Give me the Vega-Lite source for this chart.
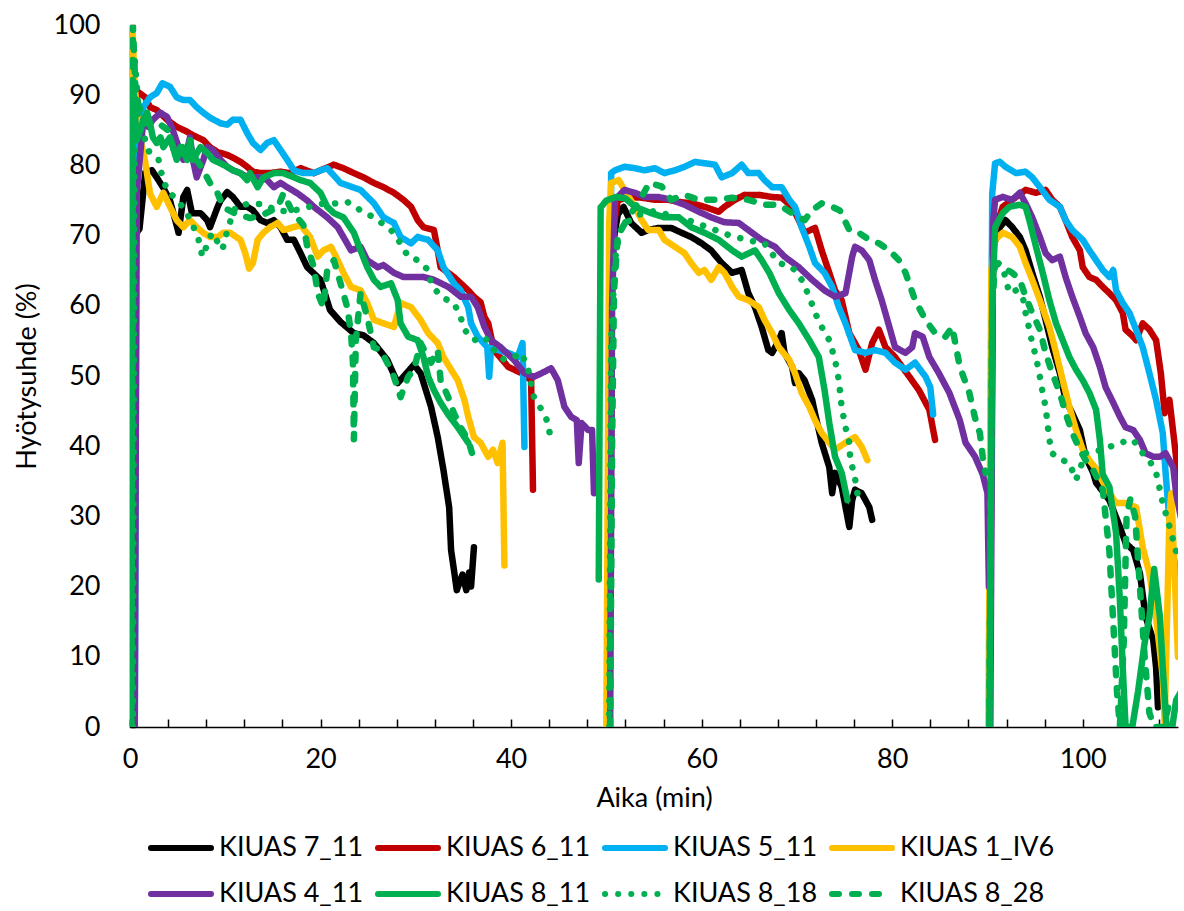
{
"$schema":"https://vega.github.io/schema/vega-lite/v6.json",
"width":1048,"height":702,
"autosize":{"type":"none"},
"padding":{"left":130,"top":25,"right":6,"bottom":184},
"background":"white",
"config":{"font":"Lato","view":{"stroke":null},
 "axis":{"domainColor":"#000","domainWidth":1.5,"tickColor":"#000","tickWidth":1.5,"labelColor":"#000","titleColor":"#000","labelFont":"Lato","titleFont":"Lato","labelFontSize":27,"titleFontSize":27,"titleFontWeight":"normal","grid":false},
 "legend":{"labelFont":"Lato","labelFontSize":27,"labelColor":"#000"}},
"data":{"values":[
{"s":"7_11","g":1,"x":0.2,"y":0},{"s":"7_11","g":1,"x":0.5,"y":70},{"s":"7_11","g":1,"x":1,"y":71},{"s":"7_11","g":1,"x":1.6,"y":79},{"s":"7_11","g":1,"x":2.3,"y":79.3},{"s":"7_11","g":1,"x":2.8,"y":78.3},{"s":"7_11","g":1,"x":3.5,"y":76.8},{"s":"7_11","g":1,"x":4.2,"y":75},{"s":"7_11","g":1,"x":5.1,"y":70.4},{"s":"7_11","g":1,"x":5.6,"y":75.5},{"s":"7_11","g":1,"x":6,"y":76.5},{"s":"7_11","g":1,"x":6.5,"y":73.2},{"s":"7_11","g":1,"x":7.4,"y":73.2},{"s":"7_11","g":1,"x":8.1,"y":72.2},{"s":"7_11","g":1,"x":8.4,"y":71.2},{"s":"7_11","g":1,"x":9.2,"y":74.1},{"s":"7_11","g":1,"x":9.5,"y":75},{"s":"7_11","g":1,"x":10.2,"y":76.2},{"s":"7_11","g":1,"x":10.8,"y":75.5},{"s":"7_11","g":1,"x":11.6,"y":74.1},{"s":"7_11","g":1,"x":12.3,"y":74.1},{"s":"7_11","g":1,"x":12.9,"y":73.6},{"s":"7_11","g":1,"x":13.7,"y":72.2},{"s":"7_11","g":1,"x":14.4,"y":71.8},{"s":"7_11","g":1,"x":15.1,"y":72.2},{"s":"7_11","g":1,"x":15.8,"y":71.2},{"s":"7_11","g":1,"x":16.5,"y":69.4},{"s":"7_11","g":1,"x":17.2,"y":69.4},{"s":"7_11","g":1,"x":17.9,"y":67.5},{"s":"7_11","g":1,"x":18.6,"y":65.5},{"s":"7_11","g":1,"x":20,"y":63.7},{"s":"7_11","g":1,"x":21,"y":59.4},{"s":"7_11","g":1,"x":22.1,"y":57.7},{"s":"7_11","g":1,"x":23.5,"y":56.1},{"s":"7_11","g":1,"x":24.5,"y":55.8},{"s":"7_11","g":1,"x":25.6,"y":54.7},{"s":"7_11","g":1,"x":27,"y":52.3},{"s":"7_11","g":1,"x":28.1,"y":49},{"s":"7_11","g":1,"x":28.7,"y":49.9},{"s":"7_11","g":1,"x":29.8,"y":51.6},{"s":"7_11","g":1,"x":30.5,"y":50.4},{"s":"7_11","g":1,"x":31.6,"y":45.6},{"s":"7_11","g":1,"x":32.3,"y":41.3},{"s":"7_11","g":1,"x":32.9,"y":36.6},{"s":"7_11","g":1,"x":33.5,"y":31.3},{"s":"7_11","g":1,"x":33.7,"y":25.2},{"s":"7_11","g":1,"x":34,"y":22.4},{"s":"7_11","g":1,"x":34.3,"y":19.5},{"s":"7_11","g":1,"x":34.9,"y":21.7},{"s":"7_11","g":1,"x":35.3,"y":19.5},{"s":"7_11","g":1,"x":35.6,"y":22},{"s":"7_11","g":1,"x":35.8,"y":20},{"s":"7_11","g":1,"x":36.1,"y":25.6},
{"s":"7_11","g":2,"x":50.3,"y":0},{"s":"7_11","g":2,"x":50.6,"y":68},{"s":"7_11","g":2,"x":51.2,"y":73},{"s":"7_11","g":2,"x":51.8,"y":74.1},{"s":"7_11","g":2,"x":52.6,"y":71.8},{"s":"7_11","g":2,"x":53.7,"y":70.4},{"s":"7_11","g":2,"x":54.4,"y":70.8},{"s":"7_11","g":2,"x":55.5,"y":71.1},{"s":"7_11","g":2,"x":56.8,"y":71.1},{"s":"7_11","g":2,"x":57.9,"y":70.4},{"s":"7_11","g":2,"x":58.9,"y":69.8},{"s":"7_11","g":2,"x":60,"y":68.9},{"s":"7_11","g":2,"x":61,"y":67.9},{"s":"7_11","g":2,"x":62.1,"y":66.1},{"s":"7_11","g":2,"x":63.2,"y":64.7},{"s":"7_11","g":2,"x":64.2,"y":65.1},{"s":"7_11","g":2,"x":64.5,"y":63.7},{"s":"7_11","g":2,"x":64.9,"y":61.8},{"s":"7_11","g":2,"x":65.6,"y":59.8},{"s":"7_11","g":2,"x":66.3,"y":57},{"s":"7_11","g":2,"x":67,"y":53.7},{"s":"7_11","g":2,"x":67.4,"y":53.3},{"s":"7_11","g":2,"x":68.1,"y":55.1},{"s":"7_11","g":2,"x":68.4,"y":56.1},{"s":"7_11","g":2,"x":68.7,"y":53.3},{"s":"7_11","g":2,"x":69.5,"y":51.3},{"s":"7_11","g":2,"x":69.8,"y":49},{"s":"7_11","g":2,"x":70.2,"y":50.4},{"s":"7_11","g":2,"x":70.8,"y":49.4},{"s":"7_11","g":2,"x":71.6,"y":46.6},{"s":"7_11","g":2,"x":71.9,"y":44.7},{"s":"7_11","g":2,"x":72.6,"y":40.5},{"s":"7_11","g":2,"x":73.4,"y":37},{"s":"7_11","g":2,"x":73.7,"y":33.3},{"s":"7_11","g":2,"x":74,"y":36.2},{"s":"7_11","g":2,"x":74.7,"y":34.2},{"s":"7_11","g":2,"x":75.5,"y":28.5},{"s":"7_11","g":2,"x":75.8,"y":32.3},{"s":"7_11","g":2,"x":76.1,"y":33.8},{"s":"7_11","g":2,"x":76.8,"y":33.3},{"s":"7_11","g":2,"x":77.6,"y":31.3},{"s":"7_11","g":2,"x":77.9,"y":29.5},
{"s":"7_11","g":3,"x":90.2,"y":0},{"s":"7_11","g":3,"x":90.5,"y":68},{"s":"7_11","g":3,"x":91.3,"y":71.2},{"s":"7_11","g":3,"x":91.9,"y":72.2},{"s":"7_11","g":3,"x":92.6,"y":71.2},{"s":"7_11","g":3,"x":93.4,"y":69.8},{"s":"7_11","g":3,"x":94,"y":67.9},{"s":"7_11","g":3,"x":94.7,"y":64.7},{"s":"7_11","g":3,"x":95.5,"y":61.3},{"s":"7_11","g":3,"x":96.1,"y":58},{"s":"7_11","g":3,"x":96.8,"y":54.1},{"s":"7_11","g":3,"x":97.6,"y":50.4},{"s":"7_11","g":3,"x":98.2,"y":46.6},{"s":"7_11","g":3,"x":98.9,"y":44.7},{"s":"7_11","g":3,"x":99.7,"y":42.3},{"s":"7_11","g":3,"x":100.3,"y":38.5},{"s":"7_11","g":3,"x":101.1,"y":36.2},{"s":"7_11","g":3,"x":101.4,"y":34.8},{"s":"7_11","g":3,"x":102.8,"y":32.3},{"s":"7_11","g":3,"x":103.9,"y":28.5},{"s":"7_11","g":3,"x":104.5,"y":26.2},{"s":"7_11","g":3,"x":105.3,"y":25.2},{"s":"7_11","g":3,"x":106,"y":21.9},{"s":"7_11","g":3,"x":106.6,"y":15.7},{"s":"7_11","g":3,"x":107.4,"y":12.4},{"s":"7_11","g":3,"x":107.7,"y":8.5},{"s":"7_11","g":3,"x":107.9,"y":2.8},
{"s":"6_11","g":1,"x":0.2,"y":0},{"s":"6_11","g":1,"x":0.4,"y":88},{"s":"6_11","g":1,"x":0.8,"y":90.5},{"s":"6_11","g":1,"x":1.6,"y":89.7},{"s":"6_11","g":1,"x":2.1,"y":88.3},{"s":"6_11","g":1,"x":2.8,"y":87.9},{"s":"6_11","g":1,"x":3.9,"y":86.5},{"s":"6_11","g":1,"x":4.9,"y":85.5},{"s":"6_11","g":1,"x":6,"y":84.8},{"s":"6_11","g":1,"x":6.6,"y":84.3},{"s":"6_11","g":1,"x":7.7,"y":83.6},{"s":"6_11","g":1,"x":8.4,"y":82.6},{"s":"6_11","g":1,"x":9.2,"y":81.9},{"s":"6_11","g":1,"x":10.2,"y":81.5},{"s":"6_11","g":1,"x":10.8,"y":81.1},{"s":"6_11","g":1,"x":11.6,"y":80.5},{"s":"6_11","g":1,"x":12.3,"y":79.8},{"s":"6_11","g":1,"x":12.9,"y":79.1},{"s":"6_11","g":1,"x":13.7,"y":78.9},{"s":"6_11","g":1,"x":14.7,"y":78.9},{"s":"6_11","g":1,"x":15.8,"y":79.1},{"s":"6_11","g":1,"x":16.8,"y":78.9},{"s":"6_11","g":1,"x":17.9,"y":79.6},{"s":"6_11","g":1,"x":19.3,"y":78.9},{"s":"6_11","g":1,"x":20,"y":79.3},{"s":"6_11","g":1,"x":21.4,"y":80.1},{"s":"6_11","g":1,"x":22.4,"y":79.6},{"s":"6_11","g":1,"x":23.5,"y":78.9},{"s":"6_11","g":1,"x":24.5,"y":78.3},{"s":"6_11","g":1,"x":25.6,"y":77.5},{"s":"6_11","g":1,"x":26.6,"y":76.9},{"s":"6_11","g":1,"x":27.7,"y":76.1},{"s":"6_11","g":1,"x":28.7,"y":75.1},{"s":"6_11","g":1,"x":29.5,"y":74.1},{"s":"6_11","g":1,"x":30.2,"y":72.2},{"s":"6_11","g":1,"x":30.8,"y":71.2},{"s":"6_11","g":1,"x":31.9,"y":70.8},{"s":"6_11","g":1,"x":32.3,"y":67.9},{"s":"6_11","g":1,"x":32.6,"y":65.5},{"s":"6_11","g":1,"x":34,"y":64.1},{"s":"6_11","g":1,"x":35.5,"y":62.2},{"s":"6_11","g":1,"x":36.1,"y":61.3},{"s":"6_11","g":1,"x":36.8,"y":60.5},{"s":"6_11","g":1,"x":37.2,"y":58.4},{"s":"6_11","g":1,"x":37.6,"y":57.5},{"s":"6_11","g":1,"x":38.2,"y":53.7},{"s":"6_11","g":1,"x":39.7,"y":51.3},{"s":"6_11","g":1,"x":41.1,"y":50.4},{"s":"6_11","g":1,"x":42.1,"y":49.4},{"s":"6_11","g":1,"x":42.3,"y":33.8},
{"s":"6_11","g":2,"x":50.3,"y":0},{"s":"6_11","g":2,"x":50.6,"y":70},{"s":"6_11","g":2,"x":51.2,"y":75},{"s":"6_11","g":2,"x":52.3,"y":75.5},{"s":"6_11","g":2,"x":53.7,"y":75.4},{"s":"6_11","g":2,"x":55.1,"y":75.1},{"s":"6_11","g":2,"x":56.5,"y":75.1},{"s":"6_11","g":2,"x":57.6,"y":74.8},{"s":"6_11","g":2,"x":58.9,"y":74.6},{"s":"6_11","g":2,"x":60.3,"y":74.1},{"s":"6_11","g":2,"x":61.8,"y":73.4},{"s":"6_11","g":2,"x":62.4,"y":74.1},{"s":"6_11","g":2,"x":63.5,"y":75.1},{"s":"6_11","g":2,"x":64.5,"y":75.8},{"s":"6_11","g":2,"x":66,"y":75.8},{"s":"6_11","g":2,"x":67.4,"y":75.5},{"s":"6_11","g":2,"x":68.4,"y":75.4},{"s":"6_11","g":2,"x":69.5,"y":74.1},{"s":"6_11","g":2,"x":70.2,"y":72.2},{"s":"6_11","g":2,"x":70.8,"y":70.4},{"s":"6_11","g":2,"x":71.9,"y":71.1},{"s":"6_11","g":2,"x":72.6,"y":67.9},{"s":"6_11","g":2,"x":73.4,"y":64.7},{"s":"6_11","g":2,"x":74,"y":62.2},{"s":"6_11","g":2,"x":74.7,"y":60.8},{"s":"6_11","g":2,"x":75.5,"y":56.1},{"s":"6_11","g":2,"x":76.5,"y":53.7},{"s":"6_11","g":2,"x":77.2,"y":50.9},{"s":"6_11","g":2,"x":77.9,"y":54.7},{"s":"6_11","g":2,"x":78.6,"y":56.6},{"s":"6_11","g":2,"x":79.3,"y":54.1},{"s":"6_11","g":2,"x":80.3,"y":52.7},{"s":"6_11","g":2,"x":81.8,"y":49.9},{"s":"6_11","g":2,"x":82.8,"y":48},{"s":"6_11","g":2,"x":83.9,"y":45.2},{"s":"6_11","g":2,"x":84.5,"y":40.9},
{"s":"6_11","g":3,"x":90.2,"y":0},{"s":"6_11","g":3,"x":90.6,"y":70},{"s":"6_11","g":3,"x":91.6,"y":74.1},{"s":"6_11","g":3,"x":93,"y":75.5},{"s":"6_11","g":3,"x":94,"y":76.5},{"s":"6_11","g":3,"x":95.1,"y":76.1},{"s":"6_11","g":3,"x":96.1,"y":76.5},{"s":"6_11","g":3,"x":96.8,"y":75.1},{"s":"6_11","g":3,"x":97.6,"y":74.1},{"s":"6_11","g":3,"x":98.2,"y":72.2},{"s":"6_11","g":3,"x":98.9,"y":69.8},{"s":"6_11","g":3,"x":99.7,"y":67.9},{"s":"6_11","g":3,"x":100,"y":65.5},{"s":"6_11","g":3,"x":100.7,"y":64.1},{"s":"6_11","g":3,"x":101.4,"y":63.7},{"s":"6_11","g":3,"x":102.1,"y":62.7},{"s":"6_11","g":3,"x":102.8,"y":61.8},{"s":"6_11","g":3,"x":103.5,"y":60.8},{"s":"6_11","g":3,"x":104.2,"y":59},{"s":"6_11","g":3,"x":104.5,"y":56.6},{"s":"6_11","g":3,"x":105.3,"y":55.6},{"s":"6_11","g":3,"x":105.6,"y":55.1},{"s":"6_11","g":3,"x":106.3,"y":57.5},{"s":"6_11","g":3,"x":107,"y":56.6},{"s":"6_11","g":3,"x":107.7,"y":55.1},{"s":"6_11","g":3,"x":108.2,"y":50.4},{"s":"6_11","g":3,"x":108.6,"y":44.7},{"s":"6_11","g":3,"x":109.1,"y":46.6},{"s":"6_11","g":3,"x":109.5,"y":42},{"s":"6_11","g":3,"x":110,"y":36},{"s":"6_11","g":3,"x":110.4,"y":34},
{"s":"5_11","g":1,"x":0.5,"y":0},{"s":"5_11","g":1,"x":0.7,"y":80},{"s":"5_11","g":1,"x":1,"y":86},{"s":"5_11","g":1,"x":1.4,"y":88.3},{"s":"5_11","g":1,"x":2.1,"y":89.7},{"s":"5_11","g":1,"x":2.8,"y":90.3},{"s":"5_11","g":1,"x":3.4,"y":91.7},{"s":"5_11","g":1,"x":4.2,"y":91.2},{"s":"5_11","g":1,"x":4.9,"y":89.7},{"s":"5_11","g":1,"x":5.6,"y":89.3},{"s":"5_11","g":1,"x":6.3,"y":89.3},{"s":"5_11","g":1,"x":7,"y":88.3},{"s":"5_11","g":1,"x":7.7,"y":87.5},{"s":"5_11","g":1,"x":8.4,"y":86.8},{"s":"5_11","g":1,"x":9.5,"y":86},{"s":"5_11","g":1,"x":10.2,"y":85.8},{"s":"5_11","g":1,"x":10.8,"y":86.5},{"s":"5_11","g":1,"x":11.6,"y":86.5},{"s":"5_11","g":1,"x":12.3,"y":84.6},{"s":"5_11","g":1,"x":12.9,"y":83.2},{"s":"5_11","g":1,"x":13.7,"y":82.2},{"s":"5_11","g":1,"x":14.4,"y":83.2},{"s":"5_11","g":1,"x":15.1,"y":83.6},{"s":"5_11","g":1,"x":15.8,"y":82.2},{"s":"5_11","g":1,"x":16.5,"y":80.8},{"s":"5_11","g":1,"x":17.2,"y":79.3},{"s":"5_11","g":1,"x":18.2,"y":78.9},{"s":"5_11","g":1,"x":19.3,"y":78.9},{"s":"5_11","g":1,"x":20,"y":79.3},{"s":"5_11","g":1,"x":20.7,"y":79.6},{"s":"5_11","g":1,"x":22.1,"y":77.5},{"s":"5_11","g":1,"x":24.2,"y":76.5},{"s":"5_11","g":1,"x":25.6,"y":74.6},{"s":"5_11","g":1,"x":26.6,"y":72.6},{"s":"5_11","g":1,"x":27.7,"y":71.8},{"s":"5_11","g":1,"x":28.4,"y":69.8},{"s":"5_11","g":1,"x":29.5,"y":68.9},{"s":"5_11","g":1,"x":30.2,"y":69.8},{"s":"5_11","g":1,"x":31.3,"y":69.4},{"s":"5_11","g":1,"x":32.3,"y":67.9},{"s":"5_11","g":1,"x":32.9,"y":65.5},{"s":"5_11","g":1,"x":34,"y":63.2},{"s":"5_11","g":1,"x":34.7,"y":62.2},{"s":"5_11","g":1,"x":35.5,"y":59.8},{"s":"5_11","g":1,"x":35.8,"y":57.5},{"s":"5_11","g":1,"x":36.5,"y":55.6},{"s":"5_11","g":1,"x":37.5,"y":54.1},{"s":"5_11","g":1,"x":37.7,"y":49.9},{"s":"5_11","g":1,"x":37.9,"y":54},{"s":"5_11","g":1,"x":38.6,"y":53.7},{"s":"5_11","g":1,"x":39.7,"y":53.3},{"s":"5_11","g":1,"x":40.7,"y":52.7},{"s":"5_11","g":1,"x":41.2,"y":54.7},{"s":"5_11","g":1,"x":41.4,"y":39.9},
{"s":"5_11","g":2,"x":50.3,"y":0},{"s":"5_11","g":2,"x":50.5,"y":78.9},{"s":"5_11","g":2,"x":50.9,"y":79.3},{"s":"5_11","g":2,"x":51.9,"y":79.8},{"s":"5_11","g":2,"x":53,"y":79.6},{"s":"5_11","g":2,"x":54,"y":79.3},{"s":"5_11","g":2,"x":55.1,"y":79.6},{"s":"5_11","g":2,"x":56.1,"y":78.9},{"s":"5_11","g":2,"x":57.2,"y":79.3},{"s":"5_11","g":2,"x":58.2,"y":79.8},{"s":"5_11","g":2,"x":59.3,"y":80.5},{"s":"5_11","g":2,"x":60.3,"y":80.3},{"s":"5_11","g":2,"x":61.4,"y":80.1},{"s":"5_11","g":2,"x":62.1,"y":78.3},{"s":"5_11","g":2,"x":63.2,"y":78.9},{"s":"5_11","g":2,"x":64.2,"y":80.1},{"s":"5_11","g":2,"x":64.9,"y":78.9},{"s":"5_11","g":2,"x":66,"y":78.9},{"s":"5_11","g":2,"x":66.6,"y":77.9},{"s":"5_11","g":2,"x":67.4,"y":76.9},{"s":"5_11","g":2,"x":68.4,"y":76.9},{"s":"5_11","g":2,"x":69.2,"y":75.1},{"s":"5_11","g":2,"x":69.8,"y":74.1},{"s":"5_11","g":2,"x":70.5,"y":71.2},{"s":"5_11","g":2,"x":71.3,"y":68.4},{"s":"5_11","g":2,"x":71.9,"y":66.1},{"s":"5_11","g":2,"x":72.9,"y":64.7},{"s":"5_11","g":2,"x":73.7,"y":62.7},{"s":"5_11","g":2,"x":74.4,"y":59.8},{"s":"5_11","g":2,"x":75.1,"y":57.5},{"s":"5_11","g":2,"x":76.1,"y":53.7},{"s":"5_11","g":2,"x":77.2,"y":53.3},{"s":"5_11","g":2,"x":78.2,"y":53.7},{"s":"5_11","g":2,"x":79.3,"y":53.3},{"s":"5_11","g":2,"x":80.3,"y":51.9},{"s":"5_11","g":2,"x":81.4,"y":50.9},{"s":"5_11","g":2,"x":82.4,"y":51.9},{"s":"5_11","g":2,"x":83.5,"y":49.9},{"s":"5_11","g":2,"x":84,"y":48.4},{"s":"5_11","g":2,"x":84.3,"y":44.5},
{"s":"5_11","g":3,"x":90.2,"y":0},{"s":"5_11","g":3,"x":90.5,"y":76},{"s":"5_11","g":3,"x":90.8,"y":80.3},{"s":"5_11","g":3,"x":91.3,"y":80.5},{"s":"5_11","g":3,"x":91.9,"y":79.8},{"s":"5_11","g":3,"x":93,"y":78.9},{"s":"5_11","g":3,"x":94,"y":79.1},{"s":"5_11","g":3,"x":94.7,"y":78.3},{"s":"5_11","g":3,"x":95.5,"y":76.9},{"s":"5_11","g":3,"x":96.5,"y":75.1},{"s":"5_11","g":3,"x":97.6,"y":74.1},{"s":"5_11","g":3,"x":98.2,"y":72.2},{"s":"5_11","g":3,"x":98.9,"y":70.8},{"s":"5_11","g":3,"x":100,"y":69.4},{"s":"5_11","g":3,"x":100.7,"y":67.9},{"s":"5_11","g":3,"x":101.4,"y":66.5},{"s":"5_11","g":3,"x":102.1,"y":65.1},{"s":"5_11","g":3,"x":102.8,"y":64.1},{"s":"5_11","g":3,"x":103.2,"y":65.1},{"s":"5_11","g":3,"x":103.5,"y":62.2},{"s":"5_11","g":3,"x":104.2,"y":60.4},{"s":"5_11","g":3,"x":104.9,"y":59},{"s":"5_11","g":3,"x":105.6,"y":56.6},{"s":"5_11","g":3,"x":106.3,"y":54.1},{"s":"5_11","g":3,"x":107,"y":50.4},{"s":"5_11","g":3,"x":107.7,"y":46.6},{"s":"5_11","g":3,"x":108.4,"y":41.9},{"s":"5_11","g":3,"x":108.7,"y":36.2},{"s":"5_11","g":3,"x":109.2,"y":27.6},{"s":"5_11","g":3,"x":110,"y":20},
{"s":"1_IV6","g":1,"x":0.1,"y":0},{"s":"1_IV6","g":1,"x":0.25,"y":100},{"s":"1_IV6","g":1,"x":0.5,"y":91},{"s":"1_IV6","g":1,"x":1.2,"y":83},{"s":"1_IV6","g":1,"x":1.6,"y":80.5},{"s":"1_IV6","g":1,"x":2.1,"y":76},{"s":"1_IV6","g":1,"x":2.8,"y":74.1},{"s":"1_IV6","g":1,"x":3.5,"y":76.1},{"s":"1_IV6","g":1,"x":4.2,"y":74.1},{"s":"1_IV6","g":1,"x":4.9,"y":72.2},{"s":"1_IV6","g":1,"x":5.6,"y":71.2},{"s":"1_IV6","g":1,"x":6.3,"y":72.2},{"s":"1_IV6","g":1,"x":7,"y":71.2},{"s":"1_IV6","g":1,"x":7.7,"y":70.4},{"s":"1_IV6","g":1,"x":8.4,"y":69.8},{"s":"1_IV6","g":1,"x":9.2,"y":69.8},{"s":"1_IV6","g":1,"x":9.8,"y":70.4},{"s":"1_IV6","g":1,"x":10.5,"y":70.4},{"s":"1_IV6","g":1,"x":11.6,"y":69.4},{"s":"1_IV6","g":1,"x":12.1,"y":67.5},{"s":"1_IV6","g":1,"x":12.5,"y":65.3},{"s":"1_IV6","g":1,"x":12.9,"y":66.1},{"s":"1_IV6","g":1,"x":13.4,"y":69.4},{"s":"1_IV6","g":1,"x":14,"y":70.4},{"s":"1_IV6","g":1,"x":14.7,"y":71.2},{"s":"1_IV6","g":1,"x":15.5,"y":71.8},{"s":"1_IV6","g":1,"x":16.1,"y":70.8},{"s":"1_IV6","g":1,"x":17.2,"y":71.2},{"s":"1_IV6","g":1,"x":17.9,"y":71.5},{"s":"1_IV6","g":1,"x":18.9,"y":69.8},{"s":"1_IV6","g":1,"x":19.7,"y":67},{"s":"1_IV6","g":1,"x":20.3,"y":67.9},{"s":"1_IV6","g":1,"x":21.1,"y":68.4},{"s":"1_IV6","g":1,"x":21.8,"y":66.5},{"s":"1_IV6","g":1,"x":22.4,"y":64.7},{"s":"1_IV6","g":1,"x":23.2,"y":62.7},{"s":"1_IV6","g":1,"x":24.2,"y":62.2},{"s":"1_IV6","g":1,"x":24.9,"y":60.4},{"s":"1_IV6","g":1,"x":25.6,"y":58},{"s":"1_IV6","g":1,"x":26.6,"y":57.5},{"s":"1_IV6","g":1,"x":27.7,"y":57},{"s":"1_IV6","g":1,"x":28.4,"y":60.4},{"s":"1_IV6","g":1,"x":29.5,"y":59.8},{"s":"1_IV6","g":1,"x":30.5,"y":58},{"s":"1_IV6","g":1,"x":31.3,"y":56.1},{"s":"1_IV6","g":1,"x":32.3,"y":54.7},{"s":"1_IV6","g":1,"x":32.9,"y":52.7},{"s":"1_IV6","g":1,"x":33.7,"y":50.9},{"s":"1_IV6","g":1,"x":34.4,"y":49.4},{"s":"1_IV6","g":1,"x":35.1,"y":46.6},{"s":"1_IV6","g":1,"x":35.5,"y":44.2},{"s":"1_IV6","g":1,"x":36.1,"y":41.3},{"s":"1_IV6","g":1,"x":36.8,"y":40.5},{"s":"1_IV6","g":1,"x":37.6,"y":38.5},{"s":"1_IV6","g":1,"x":38.1,"y":39.5},{"s":"1_IV6","g":1,"x":38.6,"y":37.6},{"s":"1_IV6","g":1,"x":39.1,"y":40.5},{"s":"1_IV6","g":1,"x":39.3,"y":23},
{"s":"1_IV6","g":2,"x":50,"y":0},{"s":"1_IV6","g":2,"x":50.3,"y":72},{"s":"1_IV6","g":2,"x":50.5,"y":77.5},{"s":"1_IV6","g":2,"x":51.3,"y":77.9},{"s":"1_IV6","g":2,"x":51.9,"y":76.5},{"s":"1_IV6","g":2,"x":53,"y":74.1},{"s":"1_IV6","g":2,"x":53.7,"y":72.2},{"s":"1_IV6","g":2,"x":54.4,"y":70.8},{"s":"1_IV6","g":2,"x":55.5,"y":70.8},{"s":"1_IV6","g":2,"x":56.1,"y":69.4},{"s":"1_IV6","g":2,"x":57.2,"y":68.4},{"s":"1_IV6","g":2,"x":58.2,"y":67.5},{"s":"1_IV6","g":2,"x":58.9,"y":66.1},{"s":"1_IV6","g":2,"x":59.7,"y":64.7},{"s":"1_IV6","g":2,"x":60.3,"y":65.1},{"s":"1_IV6","g":2,"x":61,"y":63.7},{"s":"1_IV6","g":2,"x":61.8,"y":65.5},{"s":"1_IV6","g":2,"x":62.4,"y":64.7},{"s":"1_IV6","g":2,"x":63.2,"y":62.7},{"s":"1_IV6","g":2,"x":63.9,"y":61.3},{"s":"1_IV6","g":2,"x":64.9,"y":60.8},{"s":"1_IV6","g":2,"x":66,"y":59.8},{"s":"1_IV6","g":2,"x":66.6,"y":58},{"s":"1_IV6","g":2,"x":67.4,"y":56.1},{"s":"1_IV6","g":2,"x":68.1,"y":54.1},{"s":"1_IV6","g":2,"x":69.2,"y":52.3},{"s":"1_IV6","g":2,"x":69.8,"y":50.4},{"s":"1_IV6","g":2,"x":70.5,"y":47.6},{"s":"1_IV6","g":2,"x":71.3,"y":45.6},{"s":"1_IV6","g":2,"x":71.9,"y":43.7},{"s":"1_IV6","g":2,"x":72.6,"y":41.9},{"s":"1_IV6","g":2,"x":73.4,"y":40.5},{"s":"1_IV6","g":2,"x":74,"y":39.5},{"s":"1_IV6","g":2,"x":75.1,"y":40.5},{"s":"1_IV6","g":2,"x":76.1,"y":41.3},{"s":"1_IV6","g":2,"x":76.8,"y":39.9},{"s":"1_IV6","g":2,"x":77.4,"y":38},
{"s":"1_IV6","g":3,"x":90.1,"y":0},{"s":"1_IV6","g":3,"x":90.4,"y":65},{"s":"1_IV6","g":3,"x":90.8,"y":69.4},{"s":"1_IV6","g":3,"x":91.6,"y":70.4},{"s":"1_IV6","g":3,"x":92.6,"y":69.8},{"s":"1_IV6","g":3,"x":93.4,"y":68.4},{"s":"1_IV6","g":3,"x":94,"y":66.1},{"s":"1_IV6","g":3,"x":94.7,"y":63.7},{"s":"1_IV6","g":3,"x":95.5,"y":60.8},{"s":"1_IV6","g":3,"x":96.5,"y":57},{"s":"1_IV6","g":3,"x":97.2,"y":53.3},{"s":"1_IV6","g":3,"x":97.9,"y":49.4},{"s":"1_IV6","g":3,"x":98.6,"y":45.6},{"s":"1_IV6","g":3,"x":99.3,"y":42.3},{"s":"1_IV6","g":3,"x":100,"y":39.5},{"s":"1_IV6","g":3,"x":100.7,"y":38},{"s":"1_IV6","g":3,"x":101.4,"y":36.8},{"s":"1_IV6","g":3,"x":102.4,"y":34.2},{"s":"1_IV6","g":3,"x":103.5,"y":31.9},{"s":"1_IV6","g":3,"x":104.5,"y":31.9},{"s":"1_IV6","g":3,"x":105.6,"y":31.3},{"s":"1_IV6","g":3,"x":106.3,"y":25.6},{"s":"1_IV6","g":3,"x":107,"y":21.9},{"s":"1_IV6","g":3,"x":107.7,"y":15.7},{"s":"1_IV6","g":3,"x":108.4,"y":7.1},{"s":"1_IV6","g":3,"x":108.6,"y":0.5},{"s":"1_IV6","g":3,"x":109.1,"y":30},{"s":"1_IV6","g":3,"x":109.3,"y":33.3},{"s":"1_IV6","g":3,"x":109.7,"y":20},{"s":"1_IV6","g":3,"x":110,"y":10},
{"s":"4_11","g":1,"x":0.5,"y":0},{"s":"4_11","g":1,"x":0.7,"y":76},{"s":"4_11","g":1,"x":1.4,"y":86.5},{"s":"4_11","g":1,"x":1.9,"y":85.5},{"s":"4_11","g":1,"x":2.4,"y":86.5},{"s":"4_11","g":1,"x":3.2,"y":87.5},{"s":"4_11","g":1,"x":3.9,"y":86.9},{"s":"4_11","g":1,"x":4.5,"y":85},{"s":"4_11","g":1,"x":5.3,"y":81.8},{"s":"4_11","g":1,"x":5.6,"y":80.8},{"s":"4_11","g":1,"x":6,"y":82.2},{"s":"4_11","g":1,"x":6.3,"y":84},{"s":"4_11","g":1,"x":6.6,"y":80.8},{"s":"4_11","g":1,"x":7,"y":78.3},{"s":"4_11","g":1,"x":7.7,"y":80.8},{"s":"4_11","g":1,"x":8.1,"y":82.6},{"s":"4_11","g":1,"x":8.7,"y":82.2},{"s":"4_11","g":1,"x":9.5,"y":80.8},{"s":"4_11","g":1,"x":10.2,"y":79.8},{"s":"4_11","g":1,"x":10.8,"y":79.3},{"s":"4_11","g":1,"x":11.6,"y":78.9},{"s":"4_11","g":1,"x":12.3,"y":78.3},{"s":"4_11","g":1,"x":13.7,"y":78.3},{"s":"4_11","g":1,"x":14.4,"y":77.9},{"s":"4_11","g":1,"x":15.1,"y":76.9},{"s":"4_11","g":1,"x":15.8,"y":77.5},{"s":"4_11","g":1,"x":16.5,"y":76.9},{"s":"4_11","g":1,"x":17.6,"y":76},{"s":"4_11","g":1,"x":18.6,"y":75},{"s":"4_11","g":1,"x":19.3,"y":74.1},{"s":"4_11","g":1,"x":20.7,"y":72.6},{"s":"4_11","g":1,"x":21.8,"y":71.2},{"s":"4_11","g":1,"x":22.4,"y":69.8},{"s":"4_11","g":1,"x":23.2,"y":67.9},{"s":"4_11","g":1,"x":24.2,"y":68.4},{"s":"4_11","g":1,"x":24.9,"y":66.5},{"s":"4_11","g":1,"x":26,"y":65.5},{"s":"4_11","g":1,"x":26.6,"y":65.8},{"s":"4_11","g":1,"x":27.7,"y":64.7},{"s":"4_11","g":1,"x":28.7,"y":64.1},{"s":"4_11","g":1,"x":29.8,"y":64.1},{"s":"4_11","g":1,"x":30.8,"y":64.1},{"s":"4_11","g":1,"x":31.9,"y":63.7},{"s":"4_11","g":1,"x":33.4,"y":62.7},{"s":"4_11","g":1,"x":34.7,"y":61.3},{"s":"4_11","g":1,"x":35.8,"y":61.3},{"s":"4_11","g":1,"x":36.5,"y":59.8},{"s":"4_11","g":1,"x":37.2,"y":57},{"s":"4_11","g":1,"x":37.9,"y":55.1},{"s":"4_11","g":1,"x":38.9,"y":54.1},{"s":"4_11","g":1,"x":40.3,"y":52.3},{"s":"4_11","g":1,"x":41.4,"y":50.4},{"s":"4_11","g":1,"x":42.4,"y":49.9},{"s":"4_11","g":1,"x":43.2,"y":50.4},{"s":"4_11","g":1,"x":44.2,"y":51.1},{"s":"4_11","g":1,"x":44.9,"y":49.4},{"s":"4_11","g":1,"x":45.6,"y":45.6},{"s":"4_11","g":1,"x":46.3,"y":44.2},{"s":"4_11","g":1,"x":46.9,"y":43.7},{"s":"4_11","g":1,"x":47.1,"y":37.6},{"s":"4_11","g":1,"x":47.4,"y":43.3},{"s":"4_11","g":1,"x":48.1,"y":42.3},{"s":"4_11","g":1,"x":48.5,"y":42.3},{"s":"4_11","g":1,"x":48.7,"y":33.3},
{"s":"4_11","g":2,"x":50.4,"y":0},{"s":"4_11","g":2,"x":50.6,"y":60},{"s":"4_11","g":2,"x":50.9,"y":75.1},{"s":"4_11","g":2,"x":51.9,"y":76.5},{"s":"4_11","g":2,"x":53,"y":76.1},{"s":"4_11","g":2,"x":54,"y":75.5},{"s":"4_11","g":2,"x":55.5,"y":75.5},{"s":"4_11","g":2,"x":56.8,"y":75.1},{"s":"4_11","g":2,"x":58.2,"y":74.4},{"s":"4_11","g":2,"x":59.7,"y":73.4},{"s":"4_11","g":2,"x":61,"y":72.6},{"s":"4_11","g":2,"x":62.4,"y":71.9},{"s":"4_11","g":2,"x":63.9,"y":71.8},{"s":"4_11","g":2,"x":64.9,"y":70.8},{"s":"4_11","g":2,"x":66.3,"y":69.4},{"s":"4_11","g":2,"x":67.7,"y":68.4},{"s":"4_11","g":2,"x":68.7,"y":67},{"s":"4_11","g":2,"x":70.2,"y":65.5},{"s":"4_11","g":2,"x":71.6,"y":63.7},{"s":"4_11","g":2,"x":72.9,"y":62.2},{"s":"4_11","g":2,"x":74,"y":61.3},{"s":"4_11","g":2,"x":75.1,"y":61.8},{"s":"4_11","g":2,"x":75.8,"y":67},{"s":"4_11","g":2,"x":76.1,"y":68.4},{"s":"4_11","g":2,"x":76.8,"y":67.9},{"s":"4_11","g":2,"x":77.6,"y":66.5},{"s":"4_11","g":2,"x":78.2,"y":63.7},{"s":"4_11","g":2,"x":78.9,"y":60.8},{"s":"4_11","g":2,"x":79.7,"y":57},{"s":"4_11","g":2,"x":80.3,"y":54.1},{"s":"4_11","g":2,"x":81.4,"y":53.3},{"s":"4_11","g":2,"x":82.1,"y":54.1},{"s":"4_11","g":2,"x":82.4,"y":56.1},{"s":"4_11","g":2,"x":83.2,"y":55.6},{"s":"4_11","g":2,"x":83.9,"y":52.7},{"s":"4_11","g":2,"x":84.9,"y":50.4},{"s":"4_11","g":2,"x":86,"y":47.6},{"s":"4_11","g":2,"x":87.1,"y":43.7},{"s":"4_11","g":2,"x":87.7,"y":40.5},{"s":"4_11","g":2,"x":88.7,"y":38.5},{"s":"4_11","g":2,"x":89.5,"y":36},{"s":"4_11","g":2,"x":90,"y":33.3},{"s":"4_11","g":2,"x":90.15,"y":20},
{"s":"4_11","g":3,"x":90.3,"y":0},{"s":"4_11","g":3,"x":90.6,"y":72},{"s":"4_11","g":3,"x":90.8,"y":75.1},{"s":"4_11","g":3,"x":91.6,"y":75.5},{"s":"4_11","g":3,"x":92.6,"y":75.1},{"s":"4_11","g":3,"x":93.4,"y":76.1},{"s":"4_11","g":3,"x":94,"y":74.6},{"s":"4_11","g":3,"x":94.7,"y":72.6},{"s":"4_11","g":3,"x":95.5,"y":69.8},{"s":"4_11","g":3,"x":96.1,"y":67.5},{"s":"4_11","g":3,"x":96.8,"y":66.5},{"s":"4_11","g":3,"x":97.6,"y":67},{"s":"4_11","g":3,"x":98.2,"y":64.1},{"s":"4_11","g":3,"x":98.9,"y":61.3},{"s":"4_11","g":3,"x":99.7,"y":58.4},{"s":"4_11","g":3,"x":100.3,"y":56.1},{"s":"4_11","g":3,"x":101.1,"y":54.1},{"s":"4_11","g":3,"x":101.8,"y":51.3},{"s":"4_11","g":3,"x":102.4,"y":48.4},{"s":"4_11","g":3,"x":103.2,"y":46.2},{"s":"4_11","g":3,"x":103.9,"y":44.2},{"s":"4_11","g":3,"x":104.5,"y":42.7},{"s":"4_11","g":3,"x":105.3,"y":42.3},{"s":"4_11","g":3,"x":106,"y":40.9},{"s":"4_11","g":3,"x":106.6,"y":39},{"s":"4_11","g":3,"x":107.4,"y":38.5},{"s":"4_11","g":3,"x":108.1,"y":38.5},{"s":"4_11","g":3,"x":108.7,"y":39},{"s":"4_11","g":3,"x":109.5,"y":37},{"s":"4_11","g":3,"x":109.8,"y":33.3},{"s":"4_11","g":3,"x":110.5,"y":28.5},
{"s":"8_11","g":1,"x":0.1,"y":0},{"s":"8_11","g":1,"x":0.3,"y":92},{"s":"8_11","g":1,"x":0.7,"y":83.6},{"s":"8_11","g":1,"x":1.1,"y":85},{"s":"8_11","g":1,"x":1.4,"y":86.5},{"s":"8_11","g":1,"x":1.8,"y":87.5},{"s":"8_11","g":1,"x":2.1,"y":86},{"s":"8_11","g":1,"x":2.4,"y":84},{"s":"8_11","g":1,"x":2.8,"y":83.2},{"s":"8_11","g":1,"x":3.2,"y":84},{"s":"8_11","g":1,"x":3.5,"y":82.6},{"s":"8_11","g":1,"x":4.2,"y":84},{"s":"8_11","g":1,"x":4.5,"y":82.6},{"s":"8_11","g":1,"x":4.9,"y":80.8},{"s":"8_11","g":1,"x":5.3,"y":82.6},{"s":"8_11","g":1,"x":6,"y":80.8},{"s":"8_11","g":1,"x":6.3,"y":83.6},{"s":"8_11","g":1,"x":6.6,"y":80.8},{"s":"8_11","g":1,"x":7.4,"y":82.6},{"s":"8_11","g":1,"x":8.1,"y":81.8},{"s":"8_11","g":1,"x":8.7,"y":80.8},{"s":"8_11","g":1,"x":9.5,"y":80.3},{"s":"8_11","g":1,"x":10.2,"y":79.8},{"s":"8_11","g":1,"x":10.8,"y":79.3},{"s":"8_11","g":1,"x":11.6,"y":78.9},{"s":"8_11","g":1,"x":12.3,"y":77.9},{"s":"8_11","g":1,"x":12.6,"y":78.9},{"s":"8_11","g":1,"x":13.4,"y":76.9},{"s":"8_11","g":1,"x":14,"y":78.3},{"s":"8_11","g":1,"x":15.1,"y":78.9},{"s":"8_11","g":1,"x":16.1,"y":78.9},{"s":"8_11","g":1,"x":17.2,"y":78.3},{"s":"8_11","g":1,"x":17.9,"y":77.9},{"s":"8_11","g":1,"x":18.9,"y":77.5},{"s":"8_11","g":1,"x":20,"y":76.1},{"s":"8_11","g":1,"x":20.7,"y":74.1},{"s":"8_11","g":1,"x":21.4,"y":73.2},{"s":"8_11","g":1,"x":22.4,"y":72.6},{"s":"8_11","g":1,"x":23.5,"y":70.4},{"s":"8_11","g":1,"x":24.2,"y":67.9},{"s":"8_11","g":1,"x":24.9,"y":65.5},{"s":"8_11","g":1,"x":25.6,"y":63.7},{"s":"8_11","g":1,"x":26.3,"y":62.7},{"s":"8_11","g":1,"x":27.4,"y":63.2},{"s":"8_11","g":1,"x":28.1,"y":60.8},{"s":"8_11","g":1,"x":28.4,"y":57.5},{"s":"8_11","g":1,"x":29.2,"y":55.6},{"s":"8_11","g":1,"x":30.2,"y":55.1},{"s":"8_11","g":1,"x":30.8,"y":52.7},{"s":"8_11","g":1,"x":31.3,"y":49.9},{"s":"8_11","g":1,"x":31.9,"y":48},{"s":"8_11","g":1,"x":32.6,"y":46.2},{"s":"8_11","g":1,"x":33.4,"y":44.5},{"s":"8_11","g":1,"x":34.4,"y":42.7},{"s":"8_11","g":1,"x":35.5,"y":40.5},
{"s":"8_11","g":2,"x":49.2,"y":21},{"s":"8_11","g":2,"x":49.4,"y":74},{"s":"8_11","g":2,"x":50,"y":75},{"s":"8_11","g":2,"x":51,"y":75.5},{"s":"8_11","g":2,"x":52,"y":75.3},{"s":"8_11","g":2,"x":53,"y":74.1},{"s":"8_11","g":2,"x":54.7,"y":73.2},{"s":"8_11","g":2,"x":56.1,"y":72.6},{"s":"8_11","g":2,"x":57.6,"y":72.6},{"s":"8_11","g":2,"x":58.9,"y":71.2},{"s":"8_11","g":2,"x":60.3,"y":70.4},{"s":"8_11","g":2,"x":61.8,"y":69.4},{"s":"8_11","g":2,"x":63.2,"y":67.9},{"s":"8_11","g":2,"x":64.2,"y":67},{"s":"8_11","g":2,"x":65.6,"y":67.9},{"s":"8_11","g":2,"x":66.3,"y":66.5},{"s":"8_11","g":2,"x":67.1,"y":64.7},{"s":"8_11","g":2,"x":68.1,"y":61.8},{"s":"8_11","g":2,"x":69.2,"y":59.4},{"s":"8_11","g":2,"x":70.2,"y":57.5},{"s":"8_11","g":2,"x":71.3,"y":55.1},{"s":"8_11","g":2,"x":72.3,"y":52.7},{"s":"8_11","g":2,"x":72.9,"y":48},{"s":"8_11","g":2,"x":73.4,"y":43.3},{"s":"8_11","g":2,"x":74,"y":38.5},{"s":"8_11","g":2,"x":74.7,"y":36.2},{"s":"8_11","g":2,"x":75.3,"y":32.3},
{"s":"8_11","g":3,"x":90.2,"y":0},{"s":"8_11","g":3,"x":90.5,"y":60},{"s":"8_11","g":3,"x":90.8,"y":71.2},{"s":"8_11","g":3,"x":91.6,"y":73.2},{"s":"8_11","g":3,"x":92.3,"y":74.1},{"s":"8_11","g":3,"x":93.4,"y":74.4},{"s":"8_11","g":3,"x":94,"y":74.1},{"s":"8_11","g":3,"x":94.4,"y":72.2},{"s":"8_11","g":3,"x":95.1,"y":68.4},{"s":"8_11","g":3,"x":95.8,"y":64.7},{"s":"8_11","g":3,"x":96.5,"y":60.8},{"s":"8_11","g":3,"x":97.2,"y":57.5},{"s":"8_11","g":3,"x":97.9,"y":55.1},{"s":"8_11","g":3,"x":98.6,"y":52.7},{"s":"8_11","g":3,"x":99.3,"y":50.9},{"s":"8_11","g":3,"x":100,"y":49.4},{"s":"8_11","g":3,"x":100.7,"y":47.6},{"s":"8_11","g":3,"x":101.4,"y":45.2},{"s":"8_11","g":3,"x":101.8,"y":40.9},{"s":"8_11","g":3,"x":102.1,"y":36},{"s":"8_11","g":3,"x":102.8,"y":34.2},{"s":"8_11","g":3,"x":103.5,"y":27.6},{"s":"8_11","g":3,"x":103.9,"y":18.1},{"s":"8_11","g":3,"x":104.2,"y":8.5},{"s":"8_11","g":3,"x":104.5,"y":0},{"s":"8_11","g":3,"x":105.2,"y":0},{"s":"8_11","g":3,"x":105.8,"y":5},{"s":"8_11","g":3,"x":106.5,"y":12},{"s":"8_11","g":3,"x":107,"y":15.7},{"s":"8_11","g":3,"x":107.5,"y":22.5},{"s":"8_11","g":3,"x":108.1,"y":15.7},{"s":"8_11","g":3,"x":108.4,"y":8.5},{"s":"8_11","g":3,"x":108.8,"y":0},{"s":"8_11","g":3,"x":109.4,"y":0},{"s":"8_11","g":3,"x":109.8,"y":3.8},{"s":"8_11","g":3,"x":110.3,"y":5},
{"s":"8_18","g":1,"x":0.3,"y":0},{"s":"8_18","g":1,"x":0.5,"y":95},{"s":"8_18","g":1,"x":1,"y":86},{"s":"8_18","g":1,"x":2,"y":82},{"s":"8_18","g":1,"x":3,"y":80.8},{"s":"8_18","g":1,"x":3.4,"y":78.3},{"s":"8_18","g":1,"x":4,"y":76.1},{"s":"8_18","g":1,"x":4.7,"y":75.5},{"s":"8_18","g":1,"x":5.8,"y":73.6},{"s":"8_18","g":1,"x":6.5,"y":71.8},{"s":"8_18","g":1,"x":7.2,"y":69.4},{"s":"8_18","g":1,"x":7.6,"y":67},{"s":"8_18","g":1,"x":8.6,"y":70.4},{"s":"8_18","g":1,"x":9.7,"y":68},{"s":"8_18","g":1,"x":10.3,"y":71.2},{"s":"8_18","g":1,"x":11.1,"y":74.1},{"s":"8_18","g":1,"x":12.3,"y":74.5},{"s":"8_18","g":1,"x":14,"y":74.5},{"s":"8_18","g":1,"x":15.5,"y":73.5},{"s":"8_18","g":1,"x":17,"y":73.5},{"s":"8_18","g":1,"x":18.5,"y":74},{"s":"8_18","g":1,"x":20,"y":74.5},{"s":"8_18","g":1,"x":21.8,"y":74.6},{"s":"8_18","g":1,"x":22.8,"y":74.8},{"s":"8_18","g":1,"x":24.2,"y":73.6},{"s":"8_18","g":1,"x":25.6,"y":72.6},{"s":"8_18","g":1,"x":27.4,"y":70.8},{"s":"8_18","g":1,"x":28.4,"y":68.9},{"s":"8_18","g":1,"x":29.2,"y":67},{"s":"8_18","g":1,"x":30.2,"y":66.5},{"s":"8_18","g":1,"x":31.3,"y":65.1},{"s":"8_18","g":1,"x":31.6,"y":63.2},{"s":"8_18","g":1,"x":32.6,"y":61.3},{"s":"8_18","g":1,"x":34,"y":60.4},{"s":"8_18","g":1,"x":34.7,"y":58.4},{"s":"8_18","g":1,"x":35.1,"y":56.6},{"s":"8_18","g":1,"x":36.1,"y":55.1},{"s":"8_18","g":1,"x":37.2,"y":55.6},{"s":"8_18","g":1,"x":38.2,"y":53.7},{"s":"8_18","g":1,"x":39.3,"y":52.3},{"s":"8_18","g":1,"x":40.3,"y":52.7},{"s":"8_18","g":1,"x":41.1,"y":53.3},{"s":"8_18","g":1,"x":41.8,"y":50.9},{"s":"8_18","g":1,"x":42.4,"y":47},{"s":"8_18","g":1,"x":43.2,"y":45.2},{"s":"8_18","g":1,"x":43.9,"y":43.3},{"s":"8_18","g":1,"x":44.1,"y":41.3},
{"s":"8_18","g":2,"x":50.3,"y":0},{"s":"8_18","g":2,"x":50.5,"y":55},{"s":"8_18","g":2,"x":50.7,"y":61},{"s":"8_18","g":2,"x":50.9,"y":66.5},{"s":"8_18","g":2,"x":51.3,"y":69.8},{"s":"8_18","g":2,"x":51.8,"y":71.8},{"s":"8_18","g":2,"x":52.6,"y":72.2},{"s":"8_18","g":2,"x":53.5,"y":73},{"s":"8_18","g":2,"x":55,"y":73.5},{"s":"8_18","g":2,"x":57,"y":72.8},{"s":"8_18","g":2,"x":59,"y":72},{"s":"8_18","g":2,"x":61,"y":71},{"s":"8_18","g":2,"x":63,"y":70},{"s":"8_18","g":2,"x":65,"y":69.3},{"s":"8_18","g":2,"x":66.6,"y":68.9},{"s":"8_18","g":2,"x":68.1,"y":66.1},{"s":"8_18","g":2,"x":69.5,"y":65.5},{"s":"8_18","g":2,"x":70.5,"y":63.7},{"s":"8_18","g":2,"x":71.3,"y":61.3},{"s":"8_18","g":2,"x":71.9,"y":59},{"s":"8_18","g":2,"x":72.6,"y":57},{"s":"8_18","g":2,"x":73.4,"y":55.1},{"s":"8_18","g":2,"x":74,"y":52.3},{"s":"8_18","g":2,"x":74.4,"y":49.4},{"s":"8_18","g":2,"x":74.7,"y":45.6},{"s":"8_18","g":2,"x":75.1,"y":42.7},{"s":"8_18","g":2,"x":75.5,"y":40.5},{"s":"8_18","g":2,"x":75.6,"y":38},{"s":"8_18","g":2,"x":76,"y":36.2},{"s":"8_18","g":2,"x":76.3,"y":33.8},{"s":"8_18","g":2,"x":76.5,"y":31.6},
{"s":"8_18","g":3,"x":90.2,"y":0},{"s":"8_18","g":3,"x":90.5,"y":60},{"s":"8_18","g":3,"x":90.8,"y":66.5},{"s":"8_18","g":3,"x":91.6,"y":65.5},{"s":"8_18","g":3,"x":92.3,"y":61.8},{"s":"8_18","g":3,"x":93,"y":62.2},{"s":"8_18","g":3,"x":93.7,"y":61.3},{"s":"8_18","g":3,"x":94,"y":59},{"s":"8_18","g":3,"x":94.4,"y":56.6},{"s":"8_18","g":3,"x":94.7,"y":54.7},{"s":"8_18","g":3,"x":95.1,"y":52.7},{"s":"8_18","g":3,"x":95.5,"y":49.9},{"s":"8_18","g":3,"x":95.8,"y":47.6},{"s":"8_18","g":3,"x":96.1,"y":45.6},{"s":"8_18","g":3,"x":96.3,"y":43.3},{"s":"8_18","g":3,"x":96.5,"y":40.9},{"s":"8_18","g":3,"x":96.8,"y":39},{"s":"8_18","g":3,"x":97.2,"y":38.5},{"s":"8_18","g":3,"x":97.9,"y":38},{"s":"8_18","g":3,"x":98.6,"y":37.6},{"s":"8_18","g":3,"x":99.3,"y":35.2},{"s":"8_18","g":3,"x":100.3,"y":39},{"s":"8_18","g":3,"x":102.1,"y":39.5},{"s":"8_18","g":3,"x":103.9,"y":40.5},{"s":"8_18","g":3,"x":105.3,"y":40.9},{"s":"8_18","g":3,"x":106.3,"y":39},{"s":"8_18","g":3,"x":107,"y":38},{"s":"8_18","g":3,"x":107.7,"y":36.2},{"s":"8_18","g":3,"x":108.1,"y":33.8},{"s":"8_18","g":3,"x":108.4,"y":31.9},{"s":"8_18","g":3,"x":109.2,"y":28.1},{"s":"8_18","g":3,"x":110,"y":24},
{"s":"8_28","g":1,"x":0.15,"y":0},{"s":"8_28","g":1,"x":0.3,"y":100},{"s":"8_28","g":1,"x":0.6,"y":90},{"s":"8_28","g":1,"x":1.5,"y":86},{"s":"8_28","g":1,"x":3,"y":86},{"s":"8_28","g":1,"x":4,"y":85},{"s":"8_28","g":1,"x":4.7,"y":81.8},{"s":"8_28","g":1,"x":5.5,"y":82.6},{"s":"8_28","g":1,"x":6.5,"y":81.8},{"s":"8_28","g":1,"x":7.6,"y":79.5},{"s":"8_28","g":1,"x":8.6,"y":77},{"s":"8_28","g":1,"x":9.2,"y":76},{"s":"8_28","g":1,"x":9.8,"y":74},{"s":"8_28","g":1,"x":11.3,"y":73},{"s":"8_28","g":1,"x":12.6,"y":72.5},{"s":"8_28","g":1,"x":14,"y":73},{"s":"8_28","g":1,"x":15.5,"y":74},{"s":"8_28","g":1,"x":16.1,"y":76},{"s":"8_28","g":1,"x":17,"y":73.5},{"s":"8_28","g":1,"x":18.2,"y":71.5},{"s":"8_28","g":1,"x":18.6,"y":68.5},{"s":"8_28","g":1,"x":19.3,"y":65.5},{"s":"8_28","g":1,"x":19.7,"y":61.8},{"s":"8_28","g":1,"x":20.3,"y":59.8},{"s":"8_28","g":1,"x":20.7,"y":65.1},{"s":"8_28","g":1,"x":21.4,"y":66.5},{"s":"8_28","g":1,"x":22.1,"y":63.2},{"s":"8_28","g":1,"x":22.8,"y":59.8},{"s":"8_28","g":1,"x":23.2,"y":56.1},{"s":"8_28","g":1,"x":23.4,"y":51.9},{"s":"8_28","g":1,"x":23.5,"y":41},{"s":"8_28","g":1,"x":23.7,"y":55},{"s":"8_28","g":1,"x":24.2,"y":61.8},{"s":"8_28","g":1,"x":24.9,"y":58.4},{"s":"8_28","g":1,"x":25.6,"y":54.1},{"s":"8_28","g":1,"x":26.3,"y":53.7},{"s":"8_28","g":1,"x":27,"y":51.9},{"s":"8_28","g":1,"x":27.7,"y":49.9},{"s":"8_28","g":1,"x":28.4,"y":47},{"s":"8_28","g":1,"x":29.2,"y":49.9},{"s":"8_28","g":1,"x":29.8,"y":50.9},{"s":"8_28","g":1,"x":30.5,"y":54.7},{"s":"8_28","g":1,"x":31.6,"y":51.9},{"s":"8_28","g":1,"x":32.3,"y":53.7},{"s":"8_28","g":1,"x":32.6,"y":49.4},{"s":"8_28","g":1,"x":33.4,"y":47},{"s":"8_28","g":1,"x":34,"y":44.7},{"s":"8_28","g":1,"x":34.7,"y":42.7},{"s":"8_28","g":1,"x":35.5,"y":40.9},{"s":"8_28","g":1,"x":36,"y":38.5},
{"s":"8_28","g":2,"x":50.4,"y":0},{"s":"8_28","g":2,"x":50.6,"y":40},{"s":"8_28","g":2,"x":50.8,"y":62},{"s":"8_28","g":2,"x":51.2,"y":70},{"s":"8_28","g":2,"x":52.3,"y":72.6},{"s":"8_28","g":2,"x":53.5,"y":75},{"s":"8_28","g":2,"x":54.5,"y":77.5},{"s":"8_28","g":2,"x":55.8,"y":77},{"s":"8_28","g":2,"x":56.8,"y":75.1},{"s":"8_28","g":2,"x":58.2,"y":75.8},{"s":"8_28","g":2,"x":59.7,"y":75.1},{"s":"8_28","g":2,"x":61.8,"y":75.1},{"s":"8_28","g":2,"x":63.2,"y":75.4},{"s":"8_28","g":2,"x":64.9,"y":75.1},{"s":"8_28","g":2,"x":66.6,"y":74.4},{"s":"8_28","g":2,"x":68.1,"y":74.4},{"s":"8_28","g":2,"x":69.5,"y":73.2},{"s":"8_28","g":2,"x":70.8,"y":72.2},{"s":"8_28","g":2,"x":71.6,"y":73.6},{"s":"8_28","g":2,"x":72.6,"y":74.6},{"s":"8_28","g":2,"x":73.7,"y":74.1},{"s":"8_28","g":2,"x":74.5,"y":73.6},{"s":"8_28","g":2,"x":75.5,"y":70.8},{"s":"8_28","g":2,"x":76.5,"y":70.4},{"s":"8_28","g":2,"x":77.6,"y":69.4},{"s":"8_28","g":2,"x":78.6,"y":68.9},{"s":"8_28","g":2,"x":79.7,"y":67.9},{"s":"8_28","g":2,"x":80.7,"y":66.5},{"s":"8_28","g":2,"x":81.4,"y":64.7},{"s":"8_28","g":2,"x":82.4,"y":60.8},{"s":"8_28","g":2,"x":83.5,"y":58},{"s":"8_28","g":2,"x":84.5,"y":56.1},{"s":"8_28","g":2,"x":85.6,"y":55.6},{"s":"8_28","g":2,"x":86.3,"y":57},{"s":"8_28","g":2,"x":87.1,"y":51.3},{"s":"8_28","g":2,"x":88.1,"y":47.6},{"s":"8_28","g":2,"x":88.7,"y":44},{"s":"8_28","g":2,"x":89.2,"y":41.9},{"s":"8_28","g":2,"x":89.5,"y":38.5},{"s":"8_28","g":2,"x":89.8,"y":36.2},
{"s":"8_28","g":3,"x":90.2,"y":0},{"s":"8_28","g":3,"x":90.5,"y":60},{"s":"8_28","g":3,"x":90.8,"y":66.1},{"s":"8_28","g":3,"x":91.6,"y":65.5},{"s":"8_28","g":3,"x":92.6,"y":64.7},{"s":"8_28","g":3,"x":93.4,"y":63.7},{"s":"8_28","g":3,"x":94,"y":61.3},{"s":"8_28","g":3,"x":94.7,"y":59},{"s":"8_28","g":3,"x":95.5,"y":56.6},{"s":"8_28","g":3,"x":96.1,"y":53.3},{"s":"8_28","g":3,"x":96.8,"y":50.4},{"s":"8_28","g":3,"x":97.6,"y":47.6},{"s":"8_28","g":3,"x":98.2,"y":44.7},{"s":"8_28","g":3,"x":98.9,"y":41.9},{"s":"8_28","g":3,"x":99.7,"y":39.5},{"s":"8_28","g":3,"x":100.3,"y":38},{"s":"8_28","g":3,"x":101.1,"y":36.6},{"s":"8_28","g":3,"x":102.1,"y":33.8},{"s":"8_28","g":3,"x":102.8,"y":25},{"s":"8_28","g":3,"x":103.2,"y":15},{"s":"8_28","g":3,"x":103.6,"y":5},{"s":"8_28","g":3,"x":103.9,"y":0},{"s":"8_28","g":3,"x":104.3,"y":12},{"s":"8_28","g":3,"x":104.6,"y":30},{"s":"8_28","g":3,"x":105,"y":32.5},{"s":"8_28","g":3,"x":105.5,"y":30},{"s":"8_28","g":3,"x":106,"y":20},{"s":"8_28","g":3,"x":106.5,"y":10},{"s":"8_28","g":3,"x":107,"y":2},{"s":"8_28","g":3,"x":107.5,"y":0},{"s":"8_28","g":3,"x":108.5,"y":0},{"s":"8_28","g":3,"x":109,"y":3},{"s":"8_28","g":3,"x":110,"y":4}
]},
"mark":{"type":"line","strokeWidth":6.5,"strokeCap":"round","strokeJoin":"round","clip":true},
"encoding":{
 "x":{"field":"x","type":"quantitative","scale":{"domain":[0,110],"nice":false,"zero":false},
  "axis":{"title":"Aika (min)","values":[0,4,8,12,16,20,24,28,32,36,40,44,48,52,56,60,64,68,72,76,80,84,88,92,96,100,104,108],"labelExpr":"datum.value % 20 === 0 ? datum.label : ''","tickSize":-8,"labelPadding":27,"titlePadding":13,"labelFlush":false,"labelOverlap":false}},
 "y":{"field":"y","type":"quantitative","scale":{"domain":[0,100],"nice":false},
  "axis":{"title":"Hyötysuhde (%)","values":[0,10,20,30,40,50,60,70,80,90,100],"tickSize":-5,"labelPadding":35,"titlePadding":12,"labelFlush":false}},
 "color":{"field":"s","type":"nominal","sort":null,
  "scale":{"domain":["7_11","6_11","5_11","1_IV6","4_11","8_11","8_18","8_28"],"range":["#000000","#C00000","#00B0F0","#FFC000","#7030A0","#00B050","#00B050","#00B050"]},
  "legend":{"orient":"none","legendX":18,"legendY":790,"direction":"horizontal","columns":4,"title":null,"symbolType":"stroke","symbolSize":3600,"symbolStrokeWidth":6,"labelFontSize":27,"labelOffset":5,"columnPadding":-8,"rowPadding":-22,"gridAlign":"all","labelExpr":"'KIUAS ' + datum.label","encode":{"symbols":{"update":{"strokeCap":{"value":"round"}}}}}},
 "strokeDash":{"field":"s","type":"nominal","sort":null,
  "scale":{"domain":["7_11","6_11","5_11","1_IV6","4_11","8_11","8_18","8_28"],"range":[[1,0],[1,0],[1,0],[1,0],[1,0],[1,0],[0.1,13],[7,13]]},
  "legend":{"orient":"none","legendX":18,"legendY":790,"direction":"horizontal","columns":4,"title":null,"symbolType":"stroke","symbolSize":3600,"symbolStrokeWidth":6,"labelFontSize":27,"labelOffset":5,"columnPadding":-8,"rowPadding":-22,"gridAlign":"all","labelExpr":"'KIUAS ' + datum.label","encode":{"symbols":{"update":{"strokeCap":{"value":"round"}}}}}},
 "detail":{"field":"g","type":"nominal"}
}
}
